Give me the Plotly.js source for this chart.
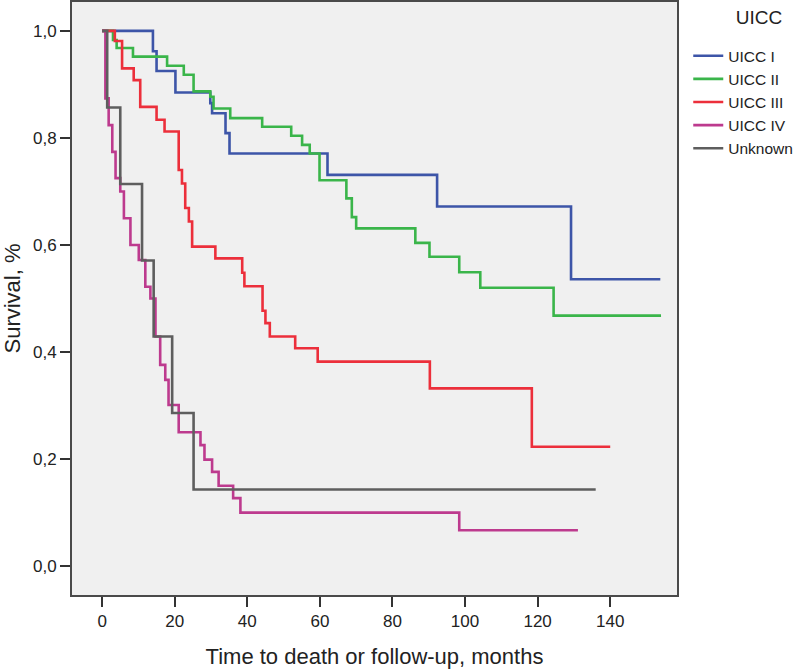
<!DOCTYPE html>
<html>
<head>
<meta charset="utf-8">
<script src="https://cdn.plot.ly/plotly-3.0.1.min.js"></script>
<style>
  html, body { margin: 0; padding: 0; background: #fff; }
  #chart { width: 800px; height: 671px; }
</style>
</head>
<body>
<div id="chart"></div>
<script>
// Kaplan-Meier steps (months, survival)
const groupNames = ["UICC I", "UICC II", "UICC III", "UICC IV", "Unknown"];
const groupColors = ["#3d55a8", "#3ab54a", "#ec2f3b", "#bd3a8e", "#5e5e5e"];

const monthsI = [0, 14.0, 15.0, 20.2, 29.8, 30.3, 34.0, 35.1, 62.1, 92.3, 129.2, 153.8];
const survI = [1.0, 0.962, 0.925, 0.885, 0.865, 0.846, 0.809, 0.771, 0.731, 0.672, 0.536, 0.536];

const monthsII = [0, 3.0, 4.0, 8.5, 17.9, 22.5, 25.2, 29.8, 30.7, 35.3, 44.1, 52.1, 55.1, 57.2, 59.9, 67.3, 68.8, 70.0, 86.3, 90.2, 98.4, 104.2, 124.4, 154.0];
const survII = [1.0, 0.983, 0.968, 0.952, 0.935, 0.918, 0.887, 0.877, 0.855, 0.837, 0.821, 0.804, 0.787, 0.771, 0.721, 0.687, 0.652, 0.631, 0.604, 0.578, 0.549, 0.520, 0.468, 0.468];

const monthsIII = [0, 3.5, 5.5, 8.7, 10.5, 15.0, 17.2, 21.1, 22.0, 22.9, 23.9, 24.8, 31.2, 38.6, 39.2, 44.2, 45.0, 46.2, 53.2, 59.4, 90.3, 118.4, 140.0];
const survIII = [1.0, 0.981, 0.930, 0.908, 0.858, 0.834, 0.812, 0.740, 0.715, 0.669, 0.644, 0.597, 0.575, 0.548, 0.523, 0.477, 0.454, 0.429, 0.407, 0.382, 0.332, 0.223, 0.223];

const monthsIV = [0, 0.9, 1.8, 2.8, 3.7, 5.0, 6.0, 7.8, 10.1, 11.9, 13.3, 14.7, 16.0, 17.4, 18.3, 21.1, 27.1, 28.2, 30.3, 32.1, 36.1, 38.1, 98.4, 131.1];
const survIV = [1.0, 0.874, 0.824, 0.774, 0.725, 0.700, 0.650, 0.600, 0.572, 0.522, 0.500, 0.429, 0.376, 0.348, 0.301, 0.250, 0.226, 0.199, 0.176, 0.150, 0.127, 0.100, 0.067, 0.067];

const monthsU = [0, 1.4, 5.0, 11.0, 14.2, 19.3, 25.2, 136.0];
const survU = [1.0, 0.857, 0.714, 0.571, 0.429, 0.286, 0.143, 0.143];

const xTicks = [0, 20, 40, 60, 80, 100, 120, 140];
const yTicks = [0, 0.2, 0.4, 0.6, 0.8, 1.0];

const allMonths = [monthsI, monthsII, monthsIII, monthsIV, monthsU];
const allSurv = [survI, survII, survIII, survIV, survU];

const FONT = "Arial, 'Liberation Sans', sans-serif";

const traces = groupNames.map((name, i) => ({
  type: "scatter",
  mode: "lines",
  name: name,
  x: allMonths[i],
  y: allSurv[i],
  line: { shape: "hv", color: groupColors[i], width: 2.6 },
  hoverinfo: "skip",
}));

const axisStyle = {
  showgrid: false,
  zeroline: false,
  showline: true,
  mirror: true,
  linecolor: "#4a4a4a",
  linewidth: 2,
  ticks: "outside",
  ticklen: 10,
  tickwidth: 2,
  tickcolor: "#333",
  tickfont: { family: FONT, size: 17, color: "#222" },
};

// legend title: leading spaces nudge it right, the empty second line adds room under it
const legendTitle = "<span style='font-size:19px'>&nbsp;&nbsp;&nbsp;&nbsp;&nbsp;&nbsp;UICC</span><br> ";

Plotly.newPlot(
  "chart",
  traces,
  {
    width: 800,
    height: 671,
    margin: { l: 72, r: 123, t: 2, b: 76 },
    paper_bgcolor: "#ffffff",
    plot_bgcolor: "#f0f0f0",
    separators: ",.",
    font: { family: FONT, color: "#222" },
    xaxis: Object.assign({}, axisStyle, {
      range: [-8.3, 158.4],
      tickvals: xTicks,
      title: { text: "Time to death or follow-up, months", font: { family: FONT, size: 22, color: "#222" }, standoff: 18 },
    }),
    yaxis: Object.assign({}, axisStyle, {
      range: [-0.054, 1.054],
      tickvals: yTicks,
      tickformat: ".1f",
      title: { text: "Survival, %", font: { family: FONT, size: 22, color: "#222" }, standoff: 6 },
    }),
    legend: {
      x: 1.0186,
      xanchor: "left",
      y: 0.99,
      yanchor: "top",
      bgcolor: "rgba(0,0,0,0)",
      font: { family: FONT, size: 15.5, color: "#222" },
      title: { text: legendTitle, side: "top center", font: { family: FONT, size: 12, color: "#222" } },
      tracegroupgap: 0,
      itemwidth: 30,
    },
    showlegend: true,
  },
  { displayModeBar: false, staticPlot: true }
);
</script>
</body>
</html>
